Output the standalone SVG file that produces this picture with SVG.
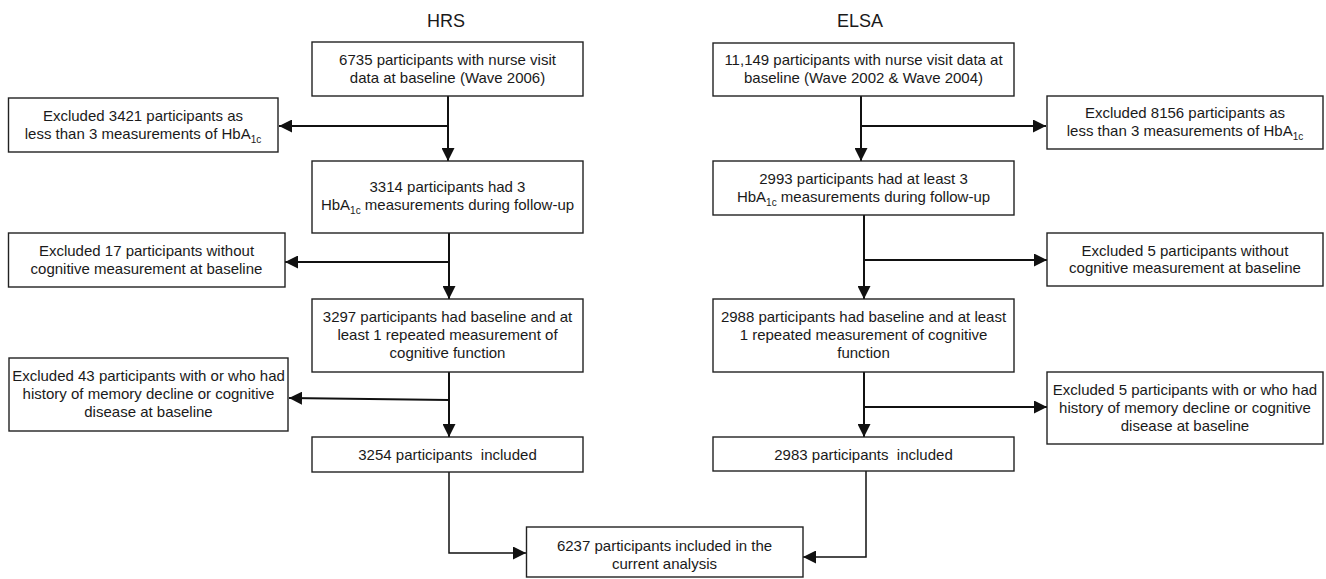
<svg xmlns="http://www.w3.org/2000/svg" width="1326" height="579" viewBox="0 0 1326 579">
<defs>
<style>
.box{fill:#fff;stroke:#222;stroke-width:1.4}
.t{font-family:"Liberation Sans",Arial,sans-serif;font-size:15px;fill:#1a1a1a;text-anchor:middle}
.title{font-family:"Liberation Sans",Arial,sans-serif;font-size:18px;fill:#1a1a1a;text-anchor:middle}
.sub{font-size:10px}
.c{fill:none;stroke:#111;stroke-width:2}
.c2{fill:none;stroke:#111;stroke-width:1.5}
</style>
<marker id="ah" markerUnits="userSpaceOnUse" markerWidth="13" markerHeight="13" viewBox="0 0 12 12" refX="12" refY="6" orient="auto">
<path d="M0,0 L12,6 L0,12 Z" fill="#111"/>
</marker>
</defs>
<rect width="1326" height="579" fill="#fff"/>

<text class="title" x="446" y="27">HRS</text>
<text class="title" x="860" y="27">ELSA</text>

<g id="connectors">
<path class="c" d="M448,96 V161" marker-end="url(#ah)"/>
<path class="c" d="M448,126 H279" marker-end="url(#ah)"/>
<path class="c" d="M449,233 V299" marker-end="url(#ah)"/>
<path class="c" d="M449,262 H285" marker-end="url(#ah)"/>
<path class="c" d="M449,372 V437" marker-end="url(#ah)"/>
<path class="c" d="M449,400 L289,398" marker-end="url(#ah)"/>
<path class="c2" d="M449,472 V553 H526" marker-end="url(#ah)"/>
<path class="c" d="M861,96 V161" marker-end="url(#ah)"/>
<path class="c" d="M861,126 H1046" marker-end="url(#ah)"/>
<path class="c" d="M864,215 V299" marker-end="url(#ah)"/>
<path class="c" d="M864,260 H1047" marker-end="url(#ah)"/>
<path class="c" d="M864,372 V437" marker-end="url(#ah)"/>
<path class="c" d="M864,407 H1047" marker-end="url(#ah)"/>
<path class="c2" d="M866,471 V557 H803" marker-end="url(#ah)"/>
</g>

<g id="hrs1">
<rect class="box" x="312" y="42" width="271" height="54"/>
<text class="t" x="447.5" y="65">6735 participants with nurse visit</text>
<text class="t" x="447.5" y="83">data at baseline (Wave 2006)</text>
</g>
<g id="hrs-ex1">
<rect class="box" x="8.5" y="98" width="269.5" height="54"/>
<text class="t" x="143" y="121">Excluded 3421 participants as</text>
<text class="t" x="143" y="139">less than 3 measurements of HbA<tspan class="sub" dy="4">1c</tspan></text>
</g>
<g id="hrs2">
<rect class="box" x="312" y="161" width="271" height="72"/>
<text class="t" x="447.5" y="192">3314 participants had 3</text>
<text class="t" x="447.5" y="210">HbA<tspan class="sub" dy="4">1c</tspan><tspan dy="-4"> measurements during follow-up</tspan></text>
</g>
<g id="hrs-ex2">
<rect class="box" x="8.5" y="233" width="276.5" height="54"/>
<text class="t" x="146.5" y="256">Excluded 17 participants without</text>
<text class="t" x="146.5" y="274">cognitive measurement at baseline</text>
</g>
<g id="hrs3">
<rect class="box" x="312" y="299" width="271" height="73"/>
<text class="t" x="447.5" y="322">3297 participants had baseline and at</text>
<text class="t" x="447.5" y="340">least 1 repeated measurement of</text>
<text class="t" x="447.5" y="358">cognitive function</text>
</g>
<g id="hrs-ex3">
<rect class="box" x="9" y="358" width="279" height="73"/>
<text class="t" x="148.5" y="381">Excluded 43 participants with or who had</text>
<text class="t" x="148.5" y="399">history of memory decline or cognitive</text>
<text class="t" x="148.5" y="417">disease at baseline</text>
</g>
<g id="hrs4">
<rect class="box" x="312" y="437" width="271" height="35"/>
<text class="t" x="447.5" y="460" xml:space="preserve">3254 participants  included</text>
</g>

<g id="elsa1">
<rect class="box" x="713" y="43" width="301" height="53"/>
<text class="t" x="863.5" y="65">11,149 participants with nurse visit data at</text>
<text class="t" x="863.5" y="83">baseline (Wave 2002 &amp; Wave 2004)</text>
</g>
<g id="elsa-ex1">
<rect class="box" x="1047" y="96" width="276" height="53"/>
<text class="t" x="1185" y="118">Excluded 8156 participants as</text>
<text class="t" x="1185" y="136">less than 3 measurements of HbA<tspan class="sub" dy="4">1c</tspan></text>
</g>
<g id="elsa2">
<rect class="box" x="713" y="161" width="301" height="54"/>
<text class="t" x="863.5" y="184">2993 participants had at least 3</text>
<text class="t" x="863.5" y="202">HbA<tspan class="sub" dy="4">1c</tspan><tspan dy="-4"> measurements during follow-up</tspan></text>
</g>
<g id="elsa-ex2">
<rect class="box" x="1047" y="233" width="276" height="53"/>
<text class="t" x="1185" y="256">Excluded 5 participants without</text>
<text class="t" x="1185" y="273">cognitive measurement at baseline</text>
</g>
<g id="elsa3">
<rect class="box" x="713" y="299" width="301" height="73"/>
<text class="t" x="863.5" y="322">2988 participants had baseline and at least</text>
<text class="t" x="863.5" y="340">1 repeated measurement of cognitive</text>
<text class="t" x="863.5" y="358">function</text>
</g>
<g id="elsa-ex3">
<rect class="box" x="1047" y="372" width="276" height="72"/>
<text class="t" x="1185" y="395">Excluded 5 participants with or who had</text>
<text class="t" x="1185" y="413">history of memory decline or cognitive</text>
<text class="t" x="1185" y="431">disease at baseline</text>
</g>
<g id="elsa4">
<rect class="box" x="713" y="437" width="301" height="34"/>
<text class="t" x="863.5" y="460" xml:space="preserve">2983 participants  included</text>
</g>

<g id="final">
<rect class="box" x="526.5" y="527" width="276.5" height="50"/>
<text class="t" x="664.5" y="551">6237 participants included in the</text>
<text class="t" x="664.5" y="569">current analysis</text>
</g>
</svg>
